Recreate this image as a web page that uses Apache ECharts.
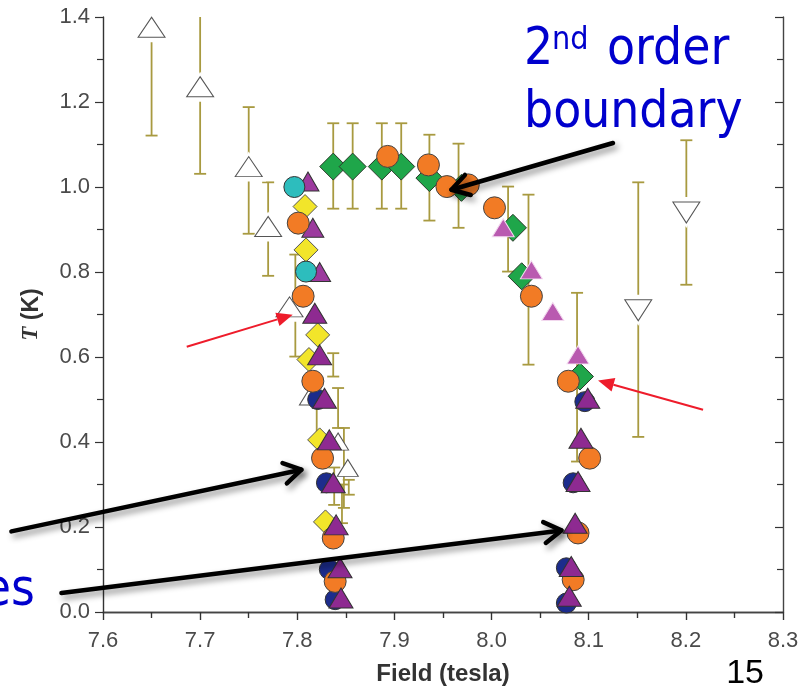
<!DOCTYPE html>
<html>
<head>
<meta charset="UTF-8">
<title>Field vs T</title>
<script src="https://cdn.jsdelivr.net/npm/echarts@6/dist/echarts.min.js"></script>
<style>
  html, body { margin: 0; padding: 0; background: #fff; }
  #main { width: 808px; height: 687px; }
</style>
</head>
<body>
<div id="main"></div>
<script>
// [field (tesla), T (K)]
var openUp = [[7.65, 1.376], [7.70, 1.236], [7.75, 1.048], [7.77, 0.907], [7.792, 0.718]];
var openUpSmall = [[7.813, 0.507], [7.842, 0.401], [7.852, 0.339]];
var openDown = [[8.2005, 0.94], [8.151, 0.71]];
var greenDia = [[7.837, 1.048], [7.857, 1.048], [7.887, 1.048], [7.907, 1.048], [7.936, 1.021],
  [7.969, 0.998], [8.022, 0.904], [8.031, 0.79], [8.091, 0.554]];
var magentaTri = [[8.012, 0.904], [8.041, 0.805], [8.063, 0.707], [8.089, 0.605]];
var yellowDia = [[7.808, 0.954], [7.809, 0.852], [7.821, 0.652], [7.812, 0.594], [7.823, 0.405], [7.829, 0.212]];
var purpleBack = [[7.811, 1.013], [7.816, 0.904], [7.823, 0.80]];
var navyCirc = [[7.821, 0.50], [7.830, 0.304], [7.833, 0.10], [7.839, 0.029],
  [8.096, 0.495], [8.084, 0.304], [8.077, 0.104], [8.077, 0.021]];
var cyanCirc = [[7.797, 1.0], [7.809, 0.801]];
var orangeCirc = [[7.893, 1.072], [7.935, 1.052], [7.954, 1.001], [7.976, 1.005], [8.003, 0.951], [8.041, 0.743],
  [7.801, 0.915], [7.806, 0.743], [7.816, 0.543], [7.826, 0.362], [7.837, 0.174], [7.839, 0.072],
  [8.079, 0.543], [8.101, 0.362], [8.089, 0.186], [8.084, 0.076]];
var purpleTri = [[7.818, 0.703], [7.823, 0.605], [7.828, 0.503], [7.833, 0.405], [7.837, 0.304], [7.840, 0.205],
  [7.844, 0.104], [7.845, 0.033],
  [8.099, 0.503], [8.092, 0.409], [8.089, 0.307], [8.086, 0.209], [8.082, 0.107], [8.080, 0.037]];
// error bars: [field, low, high]
var errBars = [[7.65, 1.121, 1.631], [7.70, 1.031, 1.43], [7.75, 0.890, 1.188], [7.77, 0.791, 1.011],
  [7.798, 0.601, 0.841], [7.837, 0.554, 0.609], [7.842, 0.433, 0.527], [7.820, 0.409, 0.507],
  [7.848, 0.245, 0.433], [7.853, 0.276, 0.311], [7.846, 0.209, 0.30], [7.838, 0.252, 0.34],
  [7.837, 0.949, 1.150], [7.857, 0.949, 1.150], [7.887, 0.949, 1.150], [7.907, 0.949, 1.150],
  [7.936, 0.921, 1.123], [7.966, 0.904, 1.102], [8.017, 0.801, 1.001], [8.038, 0.582, 0.982],
  [8.088, 0.354, 0.751], [8.2005, 0.770, 1.110], [8.151, 0.412, 1.011]];

var errColor = '#a89a40';
var chart = echarts.init(document.getElementById('main'));

function renderErr(params, api) {
  var x = api.value(0);
  var a = api.coord([x, api.value(1)]);
  var b = api.coord([x, api.value(2)]);
  var w = 6;
  var st = { stroke: errColor, lineWidth: 1.8 };
  return {
    type: 'group',
    children: [
      { type: 'line', shape: { x1: a[0], y1: a[1], x2: b[0], y2: b[1] }, style: st },
      { type: 'line', shape: { x1: a[0] - w, y1: a[1], x2: a[0] + w, y2: a[1] }, style: st },
      { type: 'line', shape: { x1: b[0] - w, y1: b[1], x2: b[0] + w, y2: b[1] }, style: st }
    ]
  };
}

function dots(name, data, symbol, size, color, border, z, rotate) {
  return {
    name: name, type: 'scatter', data: data, symbol: symbol, symbolSize: size,
    symbolRotate: rotate || 0, z: z,
    itemStyle: { color: color, borderColor: border || '#fff', borderWidth: border ? 1 : 0, opacity: 1 },
    emphasis: { disabled: true }
  };
}

var axisCommon = {
  type: 'value',
  splitLine: { show: false },
  axisLine: { show: true, lineStyle: { color: '#333', width: 1.4 } },
  axisTick: { show: true, length: 8, lineStyle: { color: '#333', width: 1.2 } },
  minorTick: { show: true, splitNumber: 2, length: 6, lineStyle: { color: '#333', width: 1.2 } }
};
var labelFont = { fontSize: 22, color: '#4a4a4a', fontFamily: 'Liberation Sans',
  formatter: function (v) { return v.toFixed(1); } };

var option = {
  animation: false,
  backgroundColor: '#fff',
  grid: { left: 103, right: 25, top: 17, bottom: 75, outerBoundsMode: 'none', containLabel: false },
  xAxis: [
    Object.assign({}, axisCommon, {
      min: 7.6, max: 8.3, interval: 0.1, position: 'bottom',
      axisLabel: Object.assign({ margin: 18 }, labelFont),
      name: 'Field (tesla)', nameLocation: 'middle', nameGap: 50,
      nameTextStyle: { fontSize: 24, fontWeight: 'bold', color: '#333', fontFamily: 'Liberation Sans' }
    }),
    Object.assign({}, axisCommon, {
      min: 7.6, max: 8.3, interval: 0.1, position: 'top',
      axisLine: { show: true, lineStyle: { color: '#444', width: 1.4 } },
      axisTick: { show: true, inside: true, length: 8, lineStyle: { color: '#333', width: 1.2 } },
      axisLabel: { show: false }
    })
  ],
  yAxis: [
    Object.assign({}, axisCommon, {
      min: 0, max: 1.4, interval: 0.2, position: 'left',
      axisLabel: Object.assign({ margin: 13 }, labelFont),
      name: '{it|T} (K)', nameLocation: 'middle', nameGap: 60,
      nameTextStyle: { fontSize: 23, fontWeight: 'bold', color: '#333', fontFamily: 'Liberation Sans',
        rich: { it: { fontSize: 23, fontStyle: 'italic', fontWeight: 'bold', color: '#333', fontFamily: 'Liberation Serif' } } }
    }),
    Object.assign({}, axisCommon, {
      min: 0, max: 1.4, interval: 0.2, position: 'right',
      axisLine: { show: true, lineStyle: { color: '#444', width: 1.4 } },
      axisTick: { show: true, inside: true, length: 8, lineStyle: { color: '#333', width: 1.2 } },
      axisLabel: { show: false }
    })
  ],
  series: [
    { name: 'err', type: 'custom', renderItem: renderErr, data: errBars, clip: true, z: 1,
      encode: { x: 0, y: [1, 2] } },
    // white halo so the bars stop short of the open triangles
    dots('openHalo', openUp, 'triangle', [35, 30], '#fff', null, 2),
    dots('openDownHalo', openDown, 'triangle', [35, 31], '#fff', null, 2, 180),
    dots('open', openUp, 'triangle', [27, 20], '#fff', '#555', 3),
    dots('openSmall', openUpSmall, 'triangle', [21, 17], '#fff', '#555', 3),
    dots('openDown', openDown, 'triangle', [27, 21], '#fff', '#555', 3, 180),
    dots('green', greenDia, 'diamond', 27, '#1fa64a', '#2a3a2a', 4),
    dots('magenta', magentaTri, 'triangle', [22, 18], '#b95ab0', '#f2d8ee', 5),
    dots('yellow', yellowDia, 'diamond', 24, '#f2e52a', '#555', 6),
    dots('purpleBack', purpleBack, 'triangle', [22, 19], '#9c3a9e', '#333', 6),
    dots('navy', navyCirc, 'circle', 20, '#1c2c8c', '#333', 7),
    dots('cyan', cyanCirc, 'circle', 21, '#2dbdbd', '#333', 8),
    dots('orange', orangeCirc, 'circle', 22, '#f27b25', '#444', 8),
    dots('purple', purpleTri, 'triangle', [24, 20], '#8e2a91', '#333', 9)
  ]
};
chart.setOption(option);

// annotations, positions given in data units
var blackArrows = [
  [[8.125, 1.1035], [7.9587, 0.9936]],
  [[7.5057, 0.1896], [7.8042, 0.3348]],
  [[7.5572, 0.0447], [8.0719, 0.192]]
];
var redArrows = [
  [[7.6862, 0.6242], [7.7953, 0.6995]],
  [[8.2177, 0.476], [8.1096, 0.545]]
];

function px(p) { return chart.convertToPixel({ xAxisIndex: 0, yAxisIndex: 0 }, p); }

var graphics = [];
var shadow = { shadowBlur: 6, shadowColor: 'rgba(0,0,0,0.45)', shadowOffsetX: 3, shadowOffsetY: 4 };
blackArrows.forEach(function (a) {
  var s = px(a[0]), t = px(a[1]);
  var ang = Math.atan2(s[1] - t[1], s[0] - t[0]);
  var L = 20, da = 0.55;
  var st = Object.assign({ stroke: '#000', lineWidth: 4.5, lineCap: 'round', lineJoin: 'round', fill: null }, shadow);
  graphics.push({ type: 'line', z: 100, shape: { x1: s[0], y1: s[1], x2: t[0], y2: t[1] }, style: st });
  graphics.push({ type: 'polyline', z: 100, shape: { points: [
    [t[0] + L * Math.cos(ang + da), t[1] + L * Math.sin(ang + da)], t,
    [t[0] + L * Math.cos(ang - da), t[1] + L * Math.sin(ang - da)]] }, style: st });
});
redArrows.forEach(function (a) {
  var s = px(a[0]), t = px(a[1]);
  var ang = Math.atan2(s[1] - t[1], s[0] - t[0]);
  var L = 16, hw = 7;
  var bx = t[0] + L * Math.cos(ang), by = t[1] + L * Math.sin(ang);
  graphics.push({ type: 'line', z: 100, shape: { x1: s[0], y1: s[1], x2: bx, y2: by },
    style: { stroke: '#ee1c2b', lineWidth: 2 } });
  graphics.push({ type: 'polygon', z: 100, shape: { points: [t,
    [bx + hw * Math.sin(ang), by - hw * Math.cos(ang)],
    [bx - hw * Math.sin(ang), by + hw * Math.cos(ang)]] }, style: { fill: '#ee1c2b' } });
});

var blueFont = '"DejaVu Sans Condensed", "DejaVu Sans", sans-serif';
function label(text, x, y, size, color, align, family) {
  return { type: 'text', z: 110, x: x, y: y, style: { text: text, fontSize: size, fontFamily: family || blueFont,
    fill: color, align: align || 'left', verticalAlign: 'middle' } };
}
graphics.push(label('2', 524, 51, 51, '#0000cd'));
graphics.push(label('nd', 552, 40.5, 32, '#0000cd'));
graphics.push(label('order', 607, 51, 51, '#0000cd'));
graphics.push(label('boundary', 524, 114, 51, '#0000cd'));
graphics.push(label('es', 35, 592, 51, '#0000cd', 'right'));
graphics.push(label('15', 764, 674, 34, '#000', 'right', 'Liberation Sans'));

chart.setOption({ graphic: graphics });
</script>
</body>
</html>
